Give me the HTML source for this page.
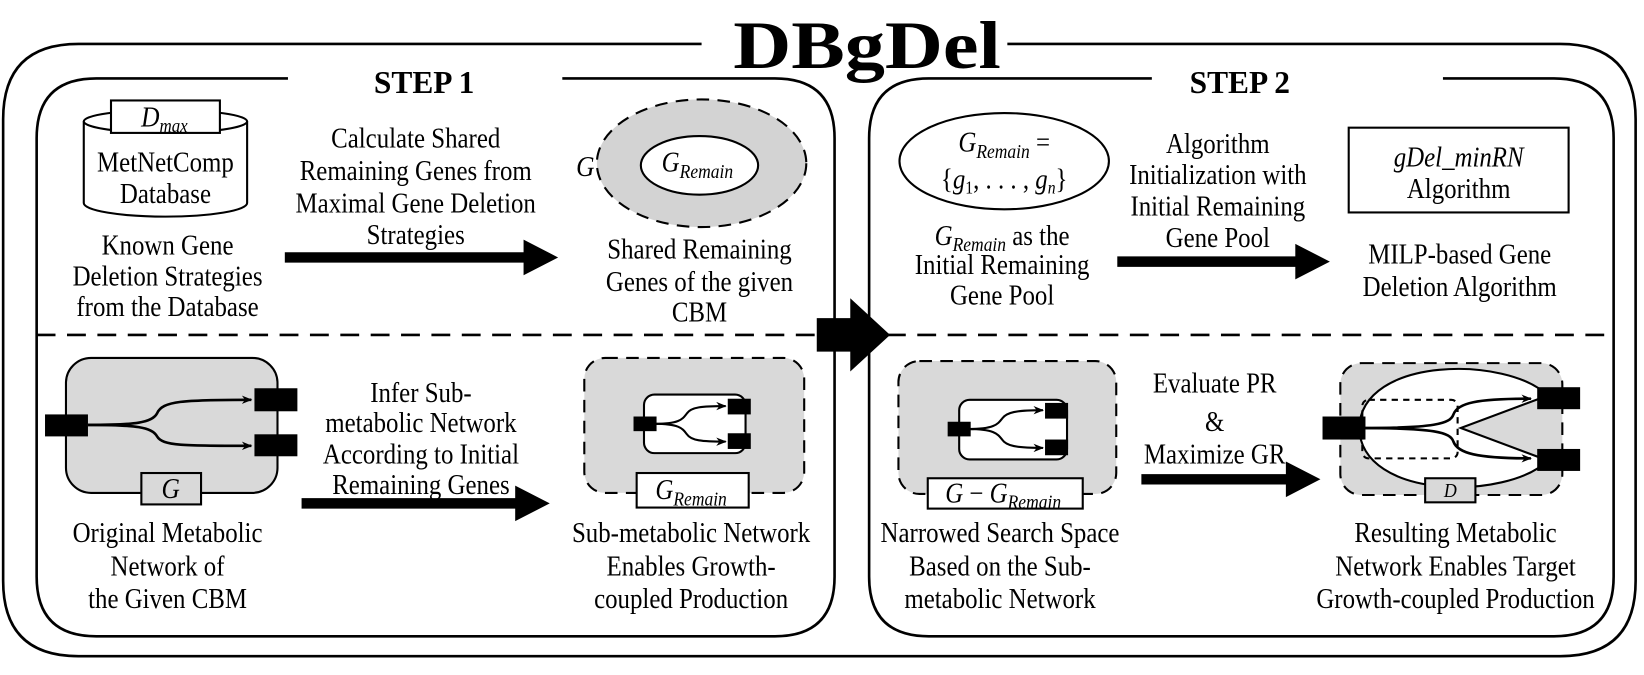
<!DOCTYPE html>
<html><head><meta charset="utf-8"><style>
html,body{margin:0;padding:0;background:#fff}
svg{display:block}
text{font-family:"Liberation Serif",serif;fill:#000}
.t{font-size:27px;text-anchor:middle}
.i{font-style:italic}
</style></head><body>
<svg width="1644" height="675" viewBox="0 0 1570 645" preserveAspectRatio="none" xmlns="http://www.w3.org/2000/svg">
<defs>
<marker id="ah" markerWidth="10" markerHeight="10" refX="9" refY="5" orient="auto" markerUnits="userSpaceOnUse"><path d="M0,1 L10,5 L0,9 L3,5 Z" fill="#000"/></marker>
</defs>
<g fill="none" stroke="#000" stroke-width="2.5">
<path d="M670,42 H75 Q3,42 3,114 V555 Q3,627 75,627 H1490 Q1562,627 1562,555 V114 Q1562,42 1490,42 H962"/>
<path d="M275,75 H92 Q35,75 35,132 V551 Q35,608 92,608 H740 Q797,608 797,551 V132 Q797,75 740,75 H537"/>
<path d="M1100,75 H887 Q830,75 830,132 V551 Q830,608 887,608 H1484 Q1541,608 1541,551 V132 Q1541,75 1484,75 H1378"/>
</g>
<line x1="35" y1="320" x2="1541" y2="320" stroke="#000" stroke-width="2.5" stroke-dasharray="18,11"/>
<path d="M780,304 H812 V285 L850,320 L812,355 V336 H780 Z" fill="#000"/>
<text style="font-size:65px;font-weight:bold;text-anchor:middle" transform="translate(828,65) scale(1.18,1)">DBgDel</text>
<text class="t" style="font-weight:bold;font-size:30px" transform="translate(405,89)">STEP 1</text>
<text class="t" style="font-weight:bold;font-size:30px" transform="translate(1184,89)">STEP 2</text>

<!-- STEP1 top -->
<path d="M80,116 V194 A78,13 0 0 0 236,194 V116" fill="#fff" stroke="#000" stroke-width="2"/>
<ellipse cx="158" cy="116" rx="78" ry="11" fill="#fff" stroke="#000" stroke-width="2"/>
<rect x="106" y="96" width="104" height="31" fill="#fff" stroke="#000" stroke-width="2"/>
<text class="t i" transform="translate(157,121) scale(0.9,1)">D<tspan font-size="18" dy="5">max</tspan></text>
<text class="t" transform="translate(158,164) scale(0.88,1)">MetNetComp</text>
<text class="t" transform="translate(158,194) scale(0.88,1)">Database</text>
<text class="t" transform="translate(160,243) scale(0.88,1)">Known Gene</text>
<text class="t" transform="translate(160,273) scale(0.88,1)">Deletion Strategies</text>
<text class="t" transform="translate(160,302) scale(0.88,1)">from the Database</text>

<text class="t" transform="translate(397,141) scale(0.88,1)">Calculate Shared</text>
<text class="t" transform="translate(397,172) scale(0.88,1)">Remaining Genes from</text>
<text class="t" transform="translate(397,203) scale(0.88,1)">Maximal Gene Deletion</text>
<text class="t" transform="translate(397,233) scale(0.88,1)">Strategies</text>
<path d="M272,241 H500 V229 L533,246 L500,263 V251 H272 Z" fill="#000"/>

<ellipse cx="670" cy="156" rx="100" ry="61" fill="#d3d3d3" stroke="#000" stroke-width="2" stroke-dasharray="12,8"/>
<ellipse cx="668" cy="158" rx="56" ry="28" fill="#fff" stroke="#000" stroke-width="2"/>
<text class="t i" transform="translate(559,168) scale(0.9,1)">G</text>
<text class="t i" transform="translate(666,164) scale(0.88,1)">G<tspan font-size="19" dy="6">Remain</tspan></text>
<text class="t" transform="translate(668,247) scale(0.88,1)">Shared Remaining</text>
<text class="t" transform="translate(668,278) scale(0.88,1)">Genes of the given</text>
<text class="t" transform="translate(668,307) scale(0.88,1)">CBM</text>

<!-- STEP1 bottom -->
<rect x="63" y="342" width="202" height="129" rx="24" fill="#d9d9d9" stroke="#000" stroke-width="2"/>
<g fill="none" stroke="#000" stroke-width="2.5" marker-end="url(#ah)">
<path d="M84,406 C130,406 145,404 150,395 C155,383 175,382 240,382"/>
<path d="M84,406 C130,406 145,408 150,417 C155,426 175,426 240,426"/>
</g>
<rect x="43" y="396" width="41" height="21" fill="#000"/>
<rect x="243" y="371" width="41" height="22" fill="#000"/>
<rect x="243" y="415" width="41" height="21" fill="#000"/>
<rect x="135" y="452" width="57" height="30" fill="#d9d9d9" stroke="#000" stroke-width="2"/>
<text class="t i" transform="translate(163,476) scale(0.9,1)">G</text>
<text class="t" transform="translate(160,518) scale(0.88,1)">Original Metabolic</text>
<text class="t" transform="translate(160,550) scale(0.88,1)">Network of</text>
<text class="t" transform="translate(160,581) scale(0.88,1)">the Given CBM</text>

<text class="t" transform="translate(402,384) scale(0.88,1)">Infer Sub-</text>
<text class="t" transform="translate(402,413) scale(0.88,1)">metabolic Network</text>
<text class="t" transform="translate(402,443) scale(0.88,1)">According to Initial</text>
<text class="t" transform="translate(402,472) scale(0.88,1)">Remaining Genes</text>
<path d="M288,476 H492 V464 L525,481 L492,498 V486 H288 Z" fill="#000"/>

<rect x="558" y="342" width="210" height="129" rx="20" fill="#d9d9d9" stroke="#000" stroke-width="2" stroke-dasharray="12,8"/>
<rect x="615" y="377" width="97" height="56" rx="10" fill="#fff" stroke="#000" stroke-width="2"/>
<g fill="none" stroke="#000" stroke-width="2" marker-end="url(#ah)">
<path d="M625,405 C650,405 652,400 656,395 C660,389 670,388 693,388"/>
<path d="M625,405 C650,405 652,410 656,415 C660,421 670,422 693,422"/>
</g>
<rect x="605" y="398" width="22" height="14" fill="#000"/>
<rect x="695" y="381" width="22" height="15" fill="#000"/>
<rect x="695" y="414" width="22" height="15" fill="#000"/>
<rect x="608" y="452" width="107" height="33" fill="#fff" stroke="#000" stroke-width="2"/>
<text class="t i" transform="translate(660,477) scale(0.88,1)">G<tspan font-size="19" dy="6">Remain</tspan></text>
<text class="t" transform="translate(660,518) scale(0.88,1)">Sub-metabolic Network</text>
<text class="t" transform="translate(660,550) scale(0.88,1)">Enables Growth-</text>
<text class="t" transform="translate(660,581) scale(0.88,1)">coupled Production</text>

<!-- STEP2 top -->
<ellipse cx="959" cy="154" rx="100" ry="46" fill="#fff" stroke="#000" stroke-width="2"/>
<text class="t i" transform="translate(959,145) scale(0.88,1)">G<tspan font-size="19" dy="6">Remain</tspan><tspan dy="-6" font-style="normal"> =</tspan></text>
<text class="t i" transform="translate(959,180) scale(0.88,1)"><tspan font-style="normal">{</tspan>g<tspan font-size="17" dy="5" font-style="normal">1</tspan><tspan dy="-5" font-style="normal">, . . . , </tspan>g<tspan font-size="17" dy="5">n</tspan><tspan dy="-5" font-style="normal">}</tspan></text>
<text class="t i" transform="translate(957,234) scale(0.88,1)">G<tspan font-size="19" dy="6">Remain</tspan><tspan dy="-6" font-style="normal"> as the</tspan></text>
<text class="t" transform="translate(957,262) scale(0.88,1)">Initial Remaining</text>
<text class="t" transform="translate(957,291) scale(0.88,1)">Gene Pool</text>

<text class="t" transform="translate(1163,146) scale(0.88,1)">Algorithm</text>
<text class="t" transform="translate(1163,176) scale(0.88,1)">Initialization with</text>
<text class="t" transform="translate(1163,206) scale(0.88,1)">Initial Remaining</text>
<text class="t" transform="translate(1163,236) scale(0.88,1)">Gene Pool</text>
<path d="M1067,245 H1237 V233 L1270,250 L1237,267 V255 H1067 Z" fill="#000"/>

<rect x="1288" y="122" width="210" height="81" fill="#fff" stroke="#000" stroke-width="2"/>
<text class="t i" transform="translate(1393,159) scale(0.88,1)">gDel_minRN</text>
<text class="t" transform="translate(1393,189) scale(0.88,1)">Algorithm</text>
<text class="t" transform="translate(1394,252) scale(0.88,1)">MILP-based Gene</text>
<text class="t" transform="translate(1394,283) scale(0.88,1)">Deletion Algorithm</text>

<!-- STEP2 bottom -->
<rect x="858" y="345" width="208" height="127" rx="20" fill="#d9d9d9" stroke="#000" stroke-width="2" stroke-dasharray="12,8"/>
<rect x="916" y="382" width="103" height="57" rx="10" fill="#fff" stroke="#000" stroke-width="2"/>
<g fill="none" stroke="#000" stroke-width="2" marker-end="url(#ah)">
<path d="M925,410 C950,410 953,405 957,400 C961,394 970,392 996,392"/>
<path d="M925,410 C950,410 953,415 957,420 C961,426 970,428 996,428"/>
</g>
<rect x="905" y="403" width="22" height="14" fill="#000"/>
<rect x="998" y="385" width="22" height="15" fill="#000"/>
<rect x="998" y="420" width="22" height="15" fill="#000"/>
<rect x="886" y="457" width="148" height="29" fill="#fff" stroke="#000" stroke-width="2"/>
<text class="t i" transform="translate(958,480) scale(0.88,1)">G <tspan font-style="normal">−</tspan> G<tspan font-size="19" dy="6">Remain</tspan></text>
<text class="t" transform="translate(955,518) scale(0.88,1)">Narrowed Search Space</text>
<text class="t" transform="translate(955,550) scale(0.88,1)">Based on the Sub-</text>
<text class="t" transform="translate(955,581) scale(0.88,1)">metabolic Network</text>

<text class="t" transform="translate(1160,375) scale(0.88,1)">Evaluate PR</text>
<text class="t" transform="translate(1160,412) scale(0.88,1)">&amp;</text>
<text class="t" transform="translate(1160,443) scale(0.88,1)">Maximize GR</text>
<path d="M1090,453 H1228 V441 L1261,458 L1228,475 V463 H1090 Z" fill="#000"/>

<rect x="1280" y="347" width="212" height="126" rx="20" fill="#d9d9d9" stroke="#000" stroke-width="2" stroke-dasharray="12,8"/>
<path d="M1298,409 C1300,340 1440,340 1478,378 L1395,409 L1478,440 C1440,478 1300,478 1298,409 Z" fill="#fff" stroke="#000" stroke-width="2"/>
<rect x="1301" y="382" width="91" height="56" rx="6" fill="none" stroke="#000" stroke-width="2" stroke-dasharray="6,5"/>
<g fill="none" stroke="#000" stroke-width="2.5" marker-end="url(#ah)">
<path d="M1300,409 C1370,409 1385,405 1388,396 C1392,385 1410,381 1462,381"/>
<path d="M1300,409 C1370,409 1385,413 1388,422 C1392,433 1410,438 1462,438"/>
</g>
<rect x="1263" y="398" width="41" height="22" fill="#000"/>
<rect x="1468" y="370" width="41" height="21" fill="#000"/>
<rect x="1468" y="429" width="41" height="21" fill="#000"/>
<rect x="1361" y="457" width="48" height="23" fill="#d9d9d9" stroke="#000" stroke-width="2"/>
<text class="i" style="font-size:19px;text-anchor:middle" transform="translate(1385,475) scale(0.9,1)">D</text>
<text class="t" transform="translate(1390,518) scale(0.88,1)">Resulting Metabolic</text>
<text class="t" transform="translate(1390,550) scale(0.88,1)">Network Enables Target</text>
<text class="t" transform="translate(1390,581) scale(0.88,1)">Growth-coupled Production</text>
</svg>
</body></html>
